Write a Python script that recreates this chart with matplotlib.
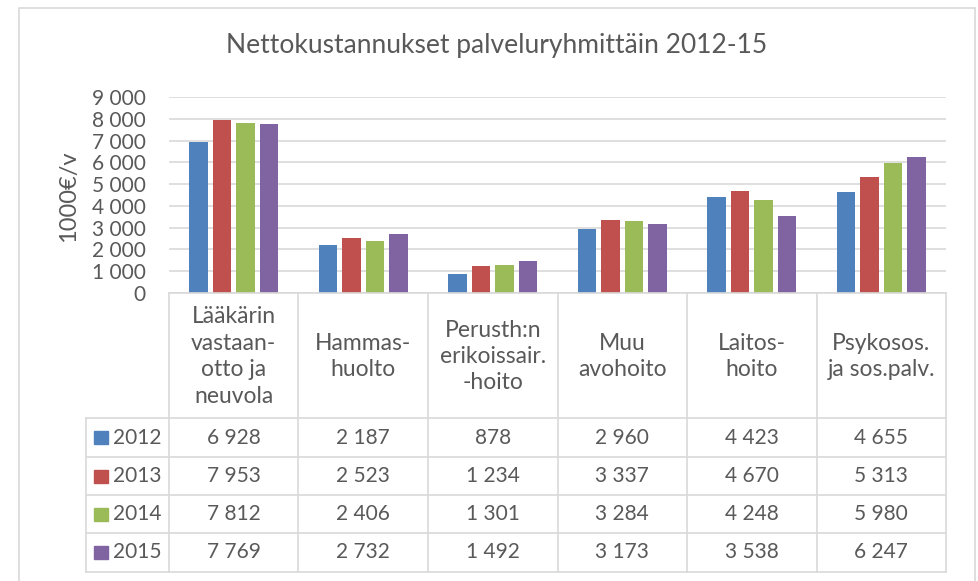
import matplotlib
matplotlib.use("Agg")
import matplotlib.pyplot as plt
from matplotlib.patches import Rectangle
import numpy as np

# ---------------- data ----------------
categories = ["Lääkärin\nvastaan-\notto ja\nneuvola", "Hammas-\nhuolto",
              "Perusth:n\nerikoissair.\n-hoito", "Muu\navohoito",
              "Laitos-\nhoito", "Psykosos.\nja sos.palv."]
years = ["2012", "2013", "2014", "2015"]
v2012 = [6928, 2187, 878, 2960, 4423, 4655]
v2013 = [7953, 2523, 1234, 3337, 4670, 5313]
v2014 = [7812, 2406, 1301, 3284, 4248, 5980]
v2015 = [7769, 2732, 1492, 3173, 3538, 6247]
series = [v2012, v2013, v2014, v2015]
yticks = [0, 1000, 2000, 3000, 4000, 5000, 6000, 7000, 8000, 9000]
title = "Nettokustannukset palveluryhmittäin 2012-15"
ylabel = "1000€/v"

# ---------------- style ----------------
colors = ["#4F81BD", "#C0504D", "#9BBB59", "#8064A2"]
txt = "#595959"
grid = "#D9D9D9"
plt.rcParams['font.family'] = ['Lato', 'DejaVu Sans']
FS = 15
FS_CAT = 16.5
FS_YL = 17


def fmt(v):
    return f"{v:,}".replace(",", " ")


W, H = 979, 581
fig = plt.figure(figsize=(W / 100, H / 100), dpi=100)


def fx(px):
    return px / W


def fy(py):
    return 1 - py / H


# outer chart border
fig.patches.append(Rectangle((fx(19), fy(620)), fx(975) - fx(19), fy(8) - fy(620),
                             transform=fig.transFigure, fill=False,
                             edgecolor=grid, lw=1.2))

# ---------------- plot area ----------------
L, R, T, B = 169, 946, 97, 293
ax = fig.add_axes([fx(L), fy(B), fx(R) - fx(L), fy(T) - fy(B)])
n = len(categories)
x = np.arange(n)
bw, step = 0.143, 0.181
for i, (vals, c) in enumerate(zip(series, colors)):
    ax.bar(x + (i - 1.5) * step, vals, width=bw, color=c, zorder=3)
ax.set_xlim(-0.5, n - 0.5)
ax.set_ylim(0, yticks[-1])
ax.set_yticks(yticks)
ax.set_yticklabels([fmt(v) for v in yticks])
ax.yaxis.grid(True, color=grid, lw=1.2, zorder=0)
ax.set_xticks([])
for s in ax.spines.values():
    s.set_visible(False)
ax.tick_params(axis='y', length=0, pad=17, labelsize=FS, labelcolor=txt)
ax.set_facecolor("none")

fig.text(fx(497), fy(45), title, ha='center', va='center', fontsize=19, color=txt)
fig.text(fx(69), fy(196), ylabel, ha='center', va='center', rotation=90,
         fontsize=FS_YL, color=txt)

# ---------------- data table ----------------
colw_px = (R - L) / n
leg_w = (L - 86) / colw_px
leg_left = -0.5 - leg_w
tax = fig.add_axes([fx(86), 0, fx(R) - fx(86), fy(B)])
tax.set_xlim(leg_left, n - 0.5)
tax.set_ylim(H, B)
tax.axis('off')

edges = [293, 418, 457, 495, 533, 572]
lk = dict(color=grid, lw=1.2, clip_on=False, solid_capstyle='projecting')
tax.plot([-0.5, n - 0.5], [edges[0], edges[0]], **lk)
for e in edges[1:]:
    tax.plot([leg_left, n - 0.5], [e, e], **lk)
for k in range(n + 1):
    tax.plot([k - 0.5, k - 0.5], [edges[0], edges[-1]], **lk)
tax.plot([leg_left, leg_left], [edges[1], edges[-1]], **lk)

hc = (edges[0] + edges[1]) / 2 + 1
for k, cat in enumerate(categories):
    tax.text(k, hc, cat, ha='center', va='center', fontsize=FS_CAT, color=txt,
             linespacing=1.32)

for r, (yr, vals, c) in enumerate(zip(years, series, colors)):
    yc = (edges[r + 1] + edges[r + 2]) / 2
    for k, v in enumerate(vals):
        tax.text(k, yc, fmt(v), ha='center', va='center', fontsize=FS, color=txt)
    tax.add_patch(Rectangle((leg_left + 8 / colw_px, yc - 6.5), 14 / colw_px, 13,
                            color=c, clip_on=False))
    tax.text(leg_left + 27 / colw_px, yc, yr, ha='left', va='center',
             fontsize=FS, color=txt)

fig.savefig("out.png", dpi=100)
